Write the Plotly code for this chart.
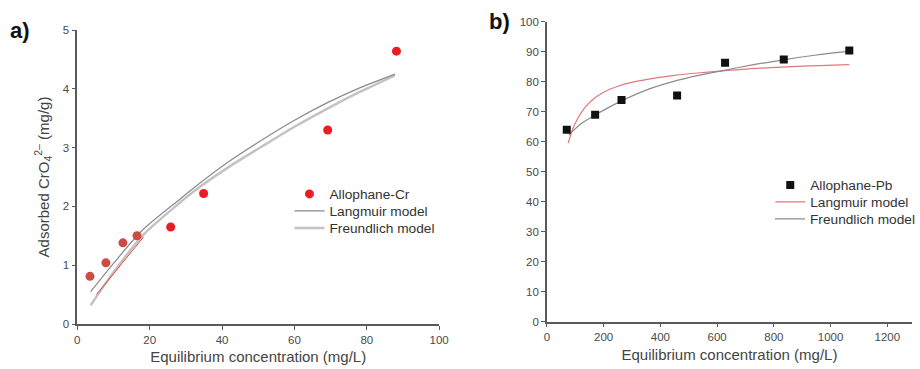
import plotly.graph_objects as go

# ---------------- Data: panel a (Allophane-Cr) ----------------
cr_conc = [3.5, 7.9, 12.6, 16.5, 25.8, 34.9, 69.2, 88.2]
cr_ads = [0.81, 1.04, 1.38, 1.50, 1.65, 2.22, 3.30, 4.64]

cr_lang_x = [3.7, 10.0, 17.9, 27.9, 32.5, 41.6, 50.8, 59.9, 69.0, 78.2, 87.8]
cr_lang_y = [0.55, 1.03, 1.59, 2.10, 2.33, 2.75, 3.12, 3.46, 3.76, 4.02, 4.25]

cr_freu_x = [3.7, 10.0, 18.3, 27.9, 32.5, 41.6, 50.8, 59.9, 69.0, 78.2, 87.8]
cr_freu_y = [0.32, 0.88, 1.52, 2.04, 2.27, 2.66, 3.01, 3.35, 3.66, 3.95, 4.23]

cr_red_x = [5.3, 18.3]
cr_red_y = [0.50, 1.48]

# ---------------- Data: panel b (Allophane-Pb) ----------------
pb_conc = [70, 170, 263, 459, 628, 835, 1066]
pb_ads = [64.0, 69.0, 73.9, 75.4, 86.3, 87.4, 90.4]

pb_lang_x = [75, 90, 110, 135, 165, 200, 250, 310, 380, 450, 530, 620, 750, 900, 1066]
pb_lang_y = [59.5, 64.0, 68.0, 71.5, 74.3, 76.5, 78.5, 80.0, 81.2, 82.1, 82.9, 83.6, 84.5, 85.2, 85.7]

pb_freu_x = [77, 120, 170, 263, 350, 444, 530, 619, 720, 833, 950, 1066]
pb_freu_y = [62.2, 66.0, 68.9, 73.6, 77.2, 80.0, 82.0, 83.7, 85.5, 87.3, 88.9, 90.2]

FONT = "Arial, 'Liberation Sans', Helvetica, sans-serif"
W, H = 920, 369

fig = go.Figure()

# panel a
fig.add_trace(go.Scatter(x=cr_freu_x, y=cr_freu_y, mode="lines", name="Freundlich model",
                         line=dict(color="#c6c2c2", width=2.5, shape="spline", smoothing=0.8),
                         xaxis="x", yaxis="y", legend="legend5"))
fig.add_trace(go.Scatter(x=cr_lang_x, y=cr_lang_y, mode="lines", name="Langmuir model",
                         line=dict(color="#8d8989", width=1.2, shape="spline", smoothing=0.8),
                         xaxis="x", yaxis="y", legend="legend3"))
fig.add_trace(go.Scatter(x=cr_red_x, y=cr_red_y, mode="lines", showlegend=False,
                         line=dict(color="#e0473f", width=1),
                         xaxis="x", yaxis="y", hoverinfo="skip"))
# low-concentration points appear in a duller red in the reference
fig.add_trace(go.Scatter(x=cr_conc[:4], y=cr_ads[:4], mode="markers", showlegend=False,
                         marker=dict(color="#cc4b45", size=9, line=dict(width=0)),
                         xaxis="x", yaxis="y"))
fig.add_trace(go.Scatter(x=cr_conc[4:], y=cr_ads[4:], mode="markers", name="Allophane-Cr",
                         marker=dict(color="#ec1c22", size=9, line=dict(width=0)),
                         xaxis="x", yaxis="y", legend="legend"))

# panel b
fig.add_trace(go.Scatter(x=pb_lang_x, y=pb_lang_y, mode="lines", name="Langmuir model",
                         line=dict(color="#e07a7a", width=1.2, shape="spline", smoothing=0.8),
                         xaxis="x2", yaxis="y2", legend="legend4"))
fig.add_trace(go.Scatter(x=pb_freu_x, y=pb_freu_y, mode="lines", name="Freundlich model",
                         line=dict(color="#8c8c8c", width=1.2, shape="spline", smoothing=0.8),
                         xaxis="x2", yaxis="y2", legend="legend6"))
fig.add_trace(go.Scatter(x=pb_conc, y=pb_ads, mode="markers", name="Allophane-Pb",
                         marker=dict(color="#111111", size=8, symbol="square", line=dict(width=0)),
                         xaxis="x2", yaxis="y2", legend="legend2"))

axis_common = dict(showgrid=False, zeroline=False, showline=True, linecolor="#5a5a5a",
                   linewidth=1.5, ticks="outside", ticklen=4, tickwidth=1.2, tickcolor="#5a5a5a",
                   tickfont=dict(family=FONT, size=11.5, color="#4a4a4a"), automargin=False)

title_font = dict(family=FONT, size=15, color="#444444")
leg_font = dict(family=FONT, size=13.7, color="#333333")


def leg(xpx, ypx):
    return dict(x=xpx / W, y=1 - ypx / H, xanchor="left", yanchor="middle",
                bgcolor="rgba(0,0,0,0)", font=leg_font, itemwidth=30,
                tracegroupgap=0, borderwidth=0)


fig.update_layout(
    width=W, height=H,
    margin=dict(l=0, r=0, t=0, b=0),
    paper_bgcolor="white", plot_bgcolor="white",
    font=dict(family=FONT, color="#333333"),
    xaxis=dict(axis_common, domain=[78 / W, 443 / W], range=[0, 100], tickvals=[0, 20, 40, 60, 80, 100],
               anchor="y",
               title=dict(text="Equilibrium concentration (mg/L)", standoff=7, font=title_font)),
    yaxis=dict(axis_common, domain=[(H - 324) / H, (H - 30) / H], range=[0, 5], tickvals=[0, 1, 2, 3, 4, 5],
               anchor="x",
               title=dict(text="Adsorbed CrO<sub>4</sub><sup>2–</sup> (mg/g)", standoff=10, font=title_font)),
    xaxis2=dict(axis_common, domain=[551.7 / W, 1.0], range=[0, 1287],
                tickvals=[0, 200, 400, 600, 800, 1000, 1200], anchor="y2",
                title=dict(text="Equilibrium concentration (mg/L)", standoff=7, font=title_font)),
    yaxis2=dict(axis_common, domain=[(H - 321.7) / H, (H - 21.7) / H], range=[0, 100],
                tickvals=list(range(0, 101, 10)), anchor="x2"),
    legend=leg(292, 194),
    legend3=leg(292, 211),
    legend5=leg(292, 228),
    legend2=leg(777, 185),
    legend4=leg(777, 202),
    legend6=leg(777, 219),
    showlegend=True,
    annotations=[
        dict(text="<b>a)</b>", x=8 / W, y=1 - 30 / H, xref="paper", yref="paper",
             xanchor="left", yanchor="middle", showarrow=False,
             font=dict(family=FONT, size=22, color="#111111")),
        dict(text="<b>b)</b>", x=491 / W, y=1 - 22 / H, xref="paper", yref="paper",
             xanchor="left", yanchor="middle", showarrow=False,
             font=dict(family=FONT, size=22, color="#111111")),
    ],
)

fig.write_html("out.html")
